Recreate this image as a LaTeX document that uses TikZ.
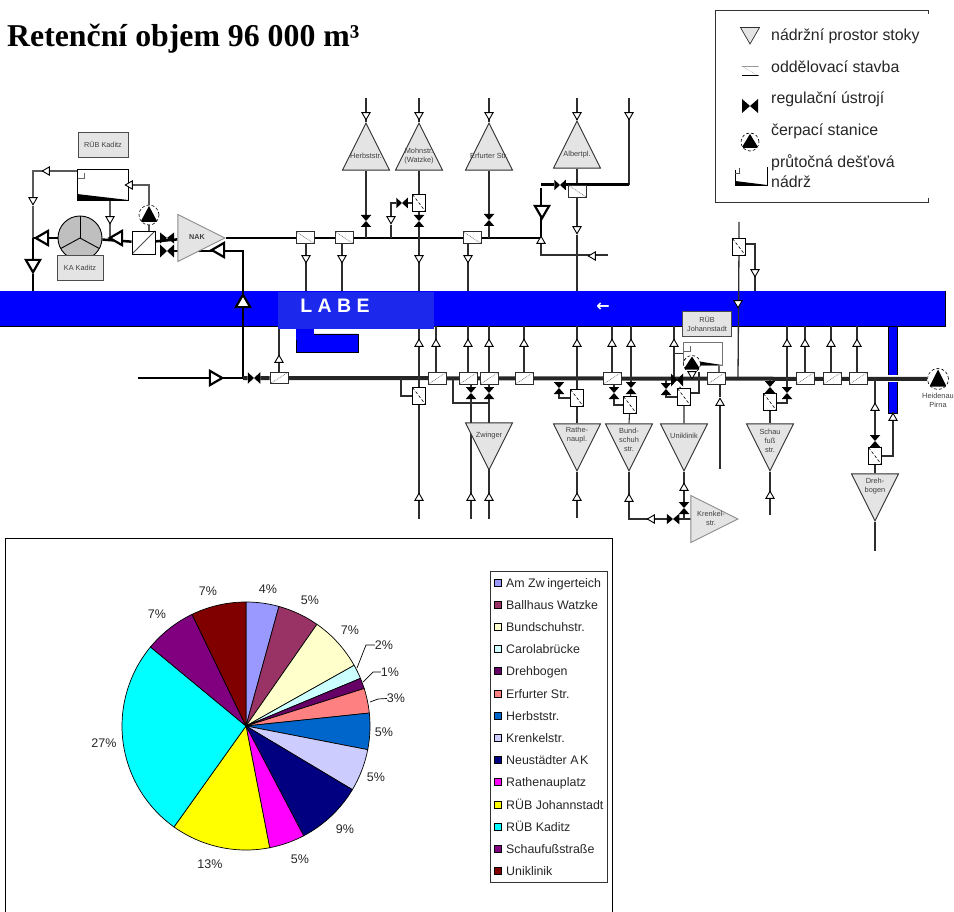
\documentclass[tikz,border=0pt]{standalone}
\usepackage{fontspec}
\setmainfont{Liberation Sans}
\newfontfamily\titlefont{Liberation Serif}
\newfontfamily\arrowfont{DejaVu Sans}
\usetikzlibrary{shapes.geometric,backgrounds}
\definecolor{tankgrey}{HTML}{E4E4E4}
\definecolor{wiregrey}{HTML}{2E2E2E}
\definecolor{river}{HTML}{0000FF}
\definecolor{labeblue}{HTML}{1C28EC}
\definecolor{pA}{HTML}{9999FF}
\definecolor{pB}{HTML}{993366}
\definecolor{pC}{HTML}{FFFFCC}
\definecolor{pD}{HTML}{CCFFFF}
\definecolor{pE}{HTML}{660066}
\definecolor{pF}{HTML}{FF8080}
\definecolor{pG}{HTML}{0066CC}
\definecolor{pH}{HTML}{CCCCFF}
\definecolor{pI}{HTML}{000080}
\definecolor{pJ}{HTML}{FF00FF}
\definecolor{pK}{HTML}{FFFF00}
\definecolor{pL}{HTML}{00FFFF}
\definecolor{pM}{HTML}{800080}
\definecolor{pN}{HTML}{800000}
\tikzset{
  wire/.style={line width=1.1pt,draw=wiregrey},
  trunk/.style={line width=2.5pt,draw=black},
  trunklow/.style={line width=4pt,draw=black!85},
  arrbase/.style={regular polygon,regular polygon sides=3,minimum size=9.5pt,inner sep=0pt,draw=black,fill=white,line width=.9pt},
  arrd/.style={arrbase,shape border rotate=180},
  arru/.style={arrbase},
  arrl/.style={arrbase,shape border rotate=90},
  thickd/.style={arrd,minimum size=16.5pt,line width=2.2pt},
  thicku/.style={arru,minimum size=16.5pt,line width=2.2pt},
  thickl/.style={arrl,minimum size=16.5pt,line width=2.2pt},
  thickr/.style={arrbase,shape border rotate=-90,minimum size=16.5pt,line width=2.2pt},
  valveh/.style={rectangle,minimum width=11.5pt,minimum height=10.5pt,inner sep=0pt,path picture={
    \fill[black] (path picture bounding box.north west) -- (path picture bounding box.south east)
      -- (path picture bounding box.north east) -- (path picture bounding box.south west) -- cycle;}},
  valvev/.style={rectangle,minimum width=10.5pt,minimum height=12pt,inner sep=0pt,path picture={
    \fill[black] (path picture bounding box.north west) -- (path picture bounding box.north east)
      -- (path picture bounding box.south west) -- (path picture bounding box.south east) -- cycle;}},
  sepbase/.style={rectangle,draw=wiregrey,fill=white,line width=.9pt,inner sep=0pt},
  seph/.style={sepbase,minimum width=18pt,minimum height=11.5pt,path picture={
    \draw[black!60,densely dotted,line width=.7pt] (path picture bounding box.north west) -- (path picture bounding box.south east);}},
  sepr/.style={sepbase,minimum width=18pt,minimum height=11.5pt,path picture={
    \draw[black!60,densely dotted,line width=.7pt] (path picture bounding box.south west) -- (path picture bounding box.north east);}},
  sepv/.style={sepbase,draw=black,minimum width=13pt,minimum height=17pt,path picture={
    \draw[black,densely dashed,line width=.6pt] (path picture bounding box.north west) -- (path picture bounding box.south east);}},
  tankbase/.style={isosceles triangle,isosceles triangle stretches,minimum width=47pt,minimum height=47pt,inner sep=0pt,anchor=apex,draw=wiregrey,fill=tankgrey,line width=.9pt},
  tankup/.style={tankbase,shape border rotate=90},
  tankdn/.style={tankbase,shape border rotate=-90},
  tankrt/.style={tankbase,shape border rotate=0,draw=black!45},
  pump/.style={circle,draw=black,densely dashed,line width=.6pt,fill=white,minimum size=20pt,inner sep=0pt,path picture={
    \fill[black] ([yshift=-1pt]path picture bounding box.north) -- ([xshift=8.5pt,yshift=3pt]path picture bounding box.south)
      -- ([xshift=-8.5pt,yshift=3pt]path picture bounding box.south) -- cycle;}},
  basin/.style={rectangle,draw=black,line width=.9pt,fill=white,inner sep=0pt,path picture={
    \fill[black] ([yshift=6pt]path picture bounding box.south west) -- (path picture bounding box.south east) -- (path picture bounding box.south west) -- cycle;
    \draw[black!60] ([xshift=1pt,yshift=-9pt]path picture bounding box.north west) -- ++(6pt,0pt) -- ++(0pt,5pt);}},
  infobox/.style={rectangle,draw=black!70,fill=tankgrey,line width=.9pt,align=center,font=\fontsize{7.3}{9.5}\selectfont,text=black!75,inner sep=0pt},
  tanktxt/.style={align=center,inner sep=0pt,font=\fontsize{7.4}{9}\selectfont,text=black!75},
  keytxt/.style={anchor=west,inner sep=0pt,font=\fontsize{15.9}{20}\selectfont,text=black!85},
  pcttxt/.style={inner sep=0pt,font=\fontsize{12.5}{14}\selectfont,text=black!85},
  pietxt/.style={anchor=base west,inner sep=0pt,font=\fontsize{12.4}{14}\selectfont,text=black!85},
}
\begin{document}
\begin{tikzpicture}[x=1pt,y=-1pt]
\useasboundingbox (0,0) rectangle (954,912);
\node[anchor=base west,inner sep=0pt] (title) at (7,47) {\titlefont\bfseries\fontsize{31.8}{34}\selectfont Retenční objem 96 000 m³};

% Legende oben rechts
\coordinate (keyNW) at (715,10);
\coordinate (keySE) at (928,202);
\draw[line width=.9pt,black!80] (928,14) -- (keyNW -| keySE) -- (keyNW) |- (keySE) -- (928,198);
\node[regular polygon,regular polygon sides=3,shape border rotate=180,minimum size=22pt,inner sep=0pt,draw=wiregrey,fill=tankgrey,line width=.7pt] (keyTank) at (750,33) {};
\node[keytxt] (keyTankTxt) at (771,36) {nádržní prostor stoky};
\node[rectangle,minimum width=17pt,minimum height=10pt,inner sep=0pt,path picture={
  \draw[black!60,densely dotted] (path picture bounding box.north west) -- (path picture bounding box.south east);
  \draw[black,line width=1pt] (path picture bounding box.south west) -- (path picture bounding box.south east);
  \draw[black!40,line width=.8pt] (path picture bounding box.north west) -- (path picture bounding box.north east);}] (keySep) at (750,71) {};
\node[keytxt] (keySepTxt) at (771,67) {oddělovací stavba};
\node[valveh,minimum width=16pt,minimum height=14pt] (keyValve) at (750,106) {};
\node[keytxt] (keyValveTxt) at (771,99) {regulační ústrojí};
\node[pump,minimum size=18pt] (keyPump) at (750,142) {};
\node[keytxt] (keyPumpTxt) at (771,131) {čerpací stanice};
\draw[line width=.9pt,black] (735,170) -- (735,185) -- (767,185) -- (767,167);
\draw[line width=.7pt,black!70] (735,173) -- (739,173) -- (739,168);
\fill[black] (735,181) -- (767,185) -- (735,185) -- cycle;
\node[keytxt] (keyBasinTxt) at (771,163) {průtočná dešťová};
\node[keytxt] (keyBasinTxtB) at (771,182) {nádrž};

% Kaditz
\node[infobox,minimum width=50pt,minimum height=25pt] (boxKad) at (103,144.5) {RÜB Kaditz};
\node[basin,minimum width=51pt,minimum height=31pt] (basKad) at (102.5,184.5) {};
\node[circle,draw=black,fill=black!25,line width=.9pt,minimum size=44pt,inner sep=0pt,path picture={
  \draw[black,line width=.9pt] (path picture bounding box.center) -- (path picture bounding box.north);
  \draw[black,line width=.9pt] (path picture bounding box.center) -- ++(-22pt,-12pt);
  \draw[black,line width=.9pt] (path picture bounding box.center) -- ++(22pt,-12pt);}] (klaer) at (80,238) {};
\node[infobox,minimum width=46pt,minimum height=25pt] (boxKA) at (80,267.5) {KA Kaditz};
\node[pump] (pumpKad) at (149,215) {};
\node[rectangle,draw=black,fill=white,line width=.9pt,minimum size=23pt,inner sep=0pt,path picture={
  \draw[black!70,line width=.8pt] (path picture bounding box.south west) -- (path picture bounding box.north east);}] (sepKad) at (143.5,242.5) {};
\node[valveh,minimum width=14pt,minimum height=11pt] (vKadA) at (167,238) {};
\node[valveh,minimum width=14pt,minimum height=13pt] (vKadB) at (167,251) {};
\node[tankbase,tankrt] (tNak) at (226,238) {};
\node[tanktxt,font=\fontsize{7.2}{9}\selectfont\bfseries] (lNak) at (197,237) {NAK};

% Sammler oben
\foreach \x/\nm in {305/A,344/B,472/C}{
  \node[seph] (sN\nm) at (\x,237.5) {};
}
\node[tankup] (tHerb) at (366,122) {};
\node[tanktxt] (lHerb) at (366,156) {Herbststr.};
\node[tankup] (tMohn) at (419,122) {};
\node[tanktxt] (lMohn) at (419,156) {Mohnstr.\\(Watzke)};
\node[tankup] (tErf) at (489,122) {};
\node[tanktxt] (lErf) at (489,156) {Erfurter Str.};
\node[tankup] (tAlb) at (577,120) {};
\node[tanktxt] (lAlb) at (577,155) {Albertpl.};
\node[valvev] (vHerb) at (366,221) {};
\node[sepv] (sMohn) at (419,203) {};
\node[valvev] (vMohn) at (419,221) {};
\node[valveh] (vMohnB) at (402,203) {};
\node[valvev] (vErf) at (489,220) {};
\node[seph,minimum height=12pt] (sAlb) at (577,191) {};
\node[valveh] (vAlb) at (560,185) {};

% Sammler unten
\node[valveh,minimum width=12.5pt,minimum height=11.5pt] (vLow) at (254,378) {};
\node[sepr] (sLowA) at (279,378) {};
\foreach \x in {437,468,489,524,612,716,805,832,858}{
  \node[sepr] (sL\x) at (\x,378.5) {};
}
\node[sepv] (sMitte) at (419,396) {};
\node[valvev] (vZwA) at (471,393) {};
\node[valvev] (vZwB) at (489,393) {};
\node[tankdn] (tZw) at (489,471) {};
\node[tanktxt] (lZw) at (489,436) {Zwinger};
\node[sepv] (sRathe) at (577,398) {};
\node[valvev] (vRathe) at (559,388) {};
\node[tankdn] (tRathe) at (577,472) {};
\node[tanktxt] (lRathe) at (577,435.5) {Rathe-\\naupl.};
\node[sepv] (sBund) at (630,405) {};
\node[valvev] (vBundA) at (614,393) {};
\node[valvev] (vBundB) at (631,388) {};
\node[tankdn] (tBund) at (629,472) {};
\node[tanktxt] (lBund) at (629,440) {Bund-\\schuh\\str.};
\node[sepv] (sUni) at (684,397) {};
\node[valvev] (vUniA) at (666,389) {};
\node[valveh,minimum width=12pt,minimum height=13pt] (vUniB) at (677,380) {};
\node[tankdn] (tUni) at (684,472) {};
\node[tanktxt] (lUni) at (684,436) {Uniklinik};
\node[valvev] (vUniC) at (684,508) {};
\node[valveh,minimum width=12.5pt] (vKren) at (673,519) {};
\node[tankbase,tankrt] (tKren) at (739,519) {};
\node[tanktxt] (lKren) at (711,518.5) {Krenkel-\\str.};
\node[infobox,minimum width=49pt,minimum height=25pt] (boxJoh) at (707,324) {RÜB\\Johannstadt};
\node[basin,draw=black!55,minimum width=39pt,minimum height=23pt] (basJoh) at (702.5,353.5) {};
\node[pump,minimum size=17pt] (pumpJoh) at (692,364) {};
\node[sepv] (sOst) at (739,247) {};
\node[sepv] (sSchau) at (770,402) {};
\node[valvev] (vSchauA) at (770,387) {};
\node[valvev] (vSchauB) at (787,393) {};
\node[tankdn] (tSchau) at (770,472) {};
\node[tanktxt] (lSchau) at (770,441) {Schau\\fuß\\str.};
\node[sepv] (sDreh) at (875,456) {};
\node[valvev] (vDreh) at (875,441) {};
\node[tankdn] (tDreh) at (875,522) {};
\node[tanktxt] (lDreh) at (875,486.5) {Dreh-\\bogen};
\node[pump,densely dashed,minimum size=21pt] (pumpPir) at (938,379) {};
\node[tanktxt,text width=40pt] (lPir) at (938,400) {Heidenau\\Pirna};

% Pfeile
\foreach \x/\y [count=\i] in {33/200,110/219,306/258,342/258,366/115,419/115,489/115,577/115,629/115,391/219,419/258,468/258,577/229,755/272,738/303,692/374}{
  \node[arrd] (aD\i) at (\x,\y) {};
}
\foreach \x/\y [count=\i] in {47/171,130/185,593/256,652/519}{
  \node[arrl] (aL\i) at (\x,\y) {};
}
\foreach \x/\y [count=\i] in {279/360,541/241,720/403,419/498,471/498,489/498,577/498,629/499,684/488,770/496,875/408,893/418,419/344,436/344,468/344,489/344,524/344,577/344,612/344,631/344,674/344,787/344,805/344,831/344,857/344}{
  \node[arru] (aU\i) at (\x,\y) {};
}
\node[thickd] (bD1) at (33,264) {};
\node[thickd] (bD2) at (542,210) {};
\node[thickl] (bL1) at (44,238) {};
\node[thickl] (bL2) at (118,238) {};
\node[thickl] (bL3) at (220,250) {};
\node[thicku] (bU1) at (243,303) {};
\node[thickr] (bR1) at (214,378) {};

% freie Enden
\coordinate (rivT) at (0,291);
\coordinate (rivB) at (0,326);
\coordinate (labeB) at (0,329);
\coordinate (jNord) at (541,238);
\coordinate (jSued) at (243,378);
\coordinate (eSued) at (138,378);
\coordinate (jWest) at (33,238);

\begin{scope}[on background layer]
% Elbe
\filldraw[fill=river,draw=black,line width=.8pt] (rivT) -- (945,291) -- (945,326) -- (rivB);
\fill[river] (0,291) rectangle (945,326);
\filldraw[fill=river,draw=black,line width=.8pt] (888,326) rectangle (897,413);
\fill[white] (885,375) rectangle (900,382);
\filldraw[fill=river,draw=black,line width=.6pt] (314,334) -- (358,334) -- (358,352) -- (296,352) -- (296,329);
\fill[river] (296,329) rectangle (314,340);

% Kaditz
\draw[wire,draw=black!65] (basKad.west |- 0,171) -| (aD1) -- (jWest);
\draw[wire,draw=black!65] (pumpKad) |- (basKad.east |- aL2);
\draw[wire,draw=black!65] (pumpKad) -- (sepKad.north -| pumpKad);
\draw[wire,draw=black!65,line width=1.3pt] (basKad.south -| 110,0) -- (110,238);
\draw[trunk] (jWest) -- (klaer);
\draw[trunk] (klaer) -- (sepKad);
\draw[trunk,line width=2.8pt] (jWest) -- (bD1) -- (jWest |- rivT);
\draw[trunk] (sepKad) -- (tNak);
\draw[trunk] (tNak.apex) -- (jNord);
\draw[trunk,line width=2.8pt] (vKadB) -- (jSued |- vKadB) -- (jSued) -- (eSued);
\draw[trunklow] (jSued) -- (vLow) -- (sLowA) -- (pumpPir);

% Nordseite
\draw[wire] (aD3 |- sNA) -- (aD3 |- rivT);
\draw[wire] (aD4 |- sNB) -- (aD4 |- rivT);
\draw[wire] (aD12 |- sNC) -- (aD12 |- rivT);
\draw[wire] (tHerb.lower side) -- (vHerb) -- (vHerb |- jNord);
\draw[wire] (aD5 |- 0,98) -- (tHerb.apex);
\draw[wire] (aD6 |- 0,98) -- (tMohn.apex);
\draw[wire] (tMohn.lower side) -- (sMohn) -- (vMohn) -- (vMohn |- rivT);
\draw[wire] (sMohn) -- (vMohnB) -| (aD10) -- (aD10 |- jNord);
\draw[wire] (aD7 |- 0,98) -- (tErf.apex);
\draw[wire] (tErf.lower side) -- (vErf) -- (vErf |- jNord);
\draw[wire] (aD8 |- 0,98) -- (tAlb.apex);
\draw[wire] (tAlb.lower side) -- (sAlb) -- (aD13) -- (aD13 |- rivT);
\draw[wire] (aD9 |- 0,98) -- (629,185);
\draw[trunk,line width=3pt] (629,185) -- (vAlb) -- (541,185);
\draw[trunk,line width=2.8pt] (541,188) -- (jNord);
\draw[wire] (aU2) -- (541,255) -- (608,255);

% Suedseite
\foreach \n in {13,14,15,16,17,18,19,20,21,22,23,24,25}{
  \draw[wire] (aU\n |- rivB) -- (aU\n |- sLowA);
}
\draw[wire] (aU1 |- labeB) -- (sLowA);
\draw[wire] (aU4 |- 0,519) -- (sMitte) -- (aU13 |- labeB);
\draw[wire] (401,378) |- (sMitte);
\draw[wire] (aU5 |- 0,519) -- (vZwA) -- (aU5 |- sLowA);
\draw[wire] (aU6 |- 0,519) -- (vZwB) -- (aU6 |- sLowA);
\draw[wire] (453,378) |- (489,403);
\draw[wire] (aU18 |- rivB) -- (sRathe) -- (tRathe.lower side);
\draw[wire] (vRathe) |- (sRathe);
\draw[wire] (tRathe.apex) -- (577,518);
\draw[wire] (vBundB) -- (vBundB |- sLowA);
\draw[wire] (vBundA) |- (sBund);
\draw[wire] (vBundA) -- (vBundA |- sLowA);
\draw[wire] (vBundB) -- (sBund) -- (tBund.lower side);
\draw[wire] (tBund.apex) -- (629,519) -- (vKren) -- (tKren);
\draw[wire] (vUniA) |- (sUni);
\draw[wire] (vUniA) -- (vUniA |- sLowA);
\draw[wire] (vUniB) -- (sUni) -- (tUni.lower side);
\draw[wire] (sUni.east |- 0,393) -- (699,393) -- (699,372);
\draw[wire] (tUni.apex) -- (vUniC) -- (684,519) -- (691,519);
\draw[wire] (aU21 |- rivB) -- (aU21 |- basJoh) -- (basJoh);
\draw[wire,draw=black!60] (719,365) -- (719,373);
\draw[wire] (aU3) -- (720,469);
\draw[wire] (aU3) -- (720,384);
\draw[wire,line width=1.3pt] (739,222) -- (sOst) -- (738,378);
\draw[wire] (sOst.east |- 0,244) -- (755,244) -- (755,291);
\draw[wire] (vSchauA) -- (vSchauA |- sLowA);
\draw[wire] (vSchauA) -- (sSchau) -- (tSchau.lower side);
\draw[wire] (tSchau.apex) -- (770,515);
\draw[wire] (sSchau.east |- 0,403) -| (vSchauB) -- (aU22);
\draw[wire,line width=1.3pt] (875,378) -- (vDreh) -- (sDreh) -- (tDreh.lower side);
\draw[wire] (tDreh.apex) -- (875,551);
\draw[wire] (sDreh.east |- 0,456) -| (aU12) -- (893,413);
\end{scope}

% LABE
\fill[fill=labeblue] (278,292) rectangle (434,329);
\node[inner sep=0pt,text=white,font=\fontsize{19.5}{22}\selectfont\bfseries] (lLabe) at (335,306) {L A B E};
\node[inner sep=0pt,text=white,font=\arrowfont\fontsize{16}{20}\selectfont\bfseries] (lFlow) at (603,307) {←};

% Torte
\draw[line width=.9pt,black] (5,912) |- (612,538) -- (612,912);
\coordinate (pie) at (246,726);
\foreach \a/\b/\c in {0/15.4/pA,15.4/34.9/pB,34.9/60.7/pC,60.7/67.4/pD,67.4/72.4/pE,72.4/84/pF,84/101/pG,101/120.9/pH,120.9/152.3/pI,152.3/169/pJ,169/215.5/pK,215.5/309.6/pL,309.6/334.2/pM,334.2/360/pN}{
  \filldraw[fill=\c,draw=black,line width=.7pt] (pie) -- ++(\a-90:124) arc[start angle=\a-90,end angle=\b-90,radius=124] -- cycle;
}
\foreach \x/\y/\t [count=\i] in {268/589/4,310/600/5,350/630/7,384/645/2,390/672/1,396/698/3,384/732/5,376/777/5,345/829/9,300/859/5,210/864/13,104/743/27,157/614/7,208/591/7}{
  \node[pcttxt] (pct\i) at (\x,\y) {\t\%};
}
\coordinate (lead2) at (357,668);
\coordinate (lead1) at (363,682);
\coordinate (lead3) at (370,702);
\draw[line width=.7pt] (lead2) -- (366,645) -- (pct4);
\draw[line width=.7pt] (lead1) -- (373,672) -- (pct5);
\draw[line width=.7pt] (lead3) -- (378,699) -- (pct6);
\draw[line width=.7pt,draw=black!80] (490,571) rectangle (607,882);
\foreach \c/\t [count=\i] in {pA/Am Zw\hspace{2.5pt}ingerteich,pB/Ballhaus Watzke,pC/Bundschuhstr.,pD/Carolabrücke,pE/Drehbogen,pF/Erfurter Str.,pG/Herbststr.,pH/Krenkelstr.,pI/Neustädter A\hspace{1.5pt}K,pJ/Rathenauplatz,pK/RÜB Johannstadt,pL/RÜB Kaditz,pM/Schaufußstraße,pN/Uniklinik}{
  \node[rectangle,draw=black,fill=\c,line width=.7pt,minimum size=7pt,inner sep=0pt] (sw\i) at (498,{582.5+(\i-1)*22.2}) {};
  \node[pietxt] (sl\i) at (506,{587+(\i-1)*22.2}) {\t};
}
\end{tikzpicture}
\end{document}
